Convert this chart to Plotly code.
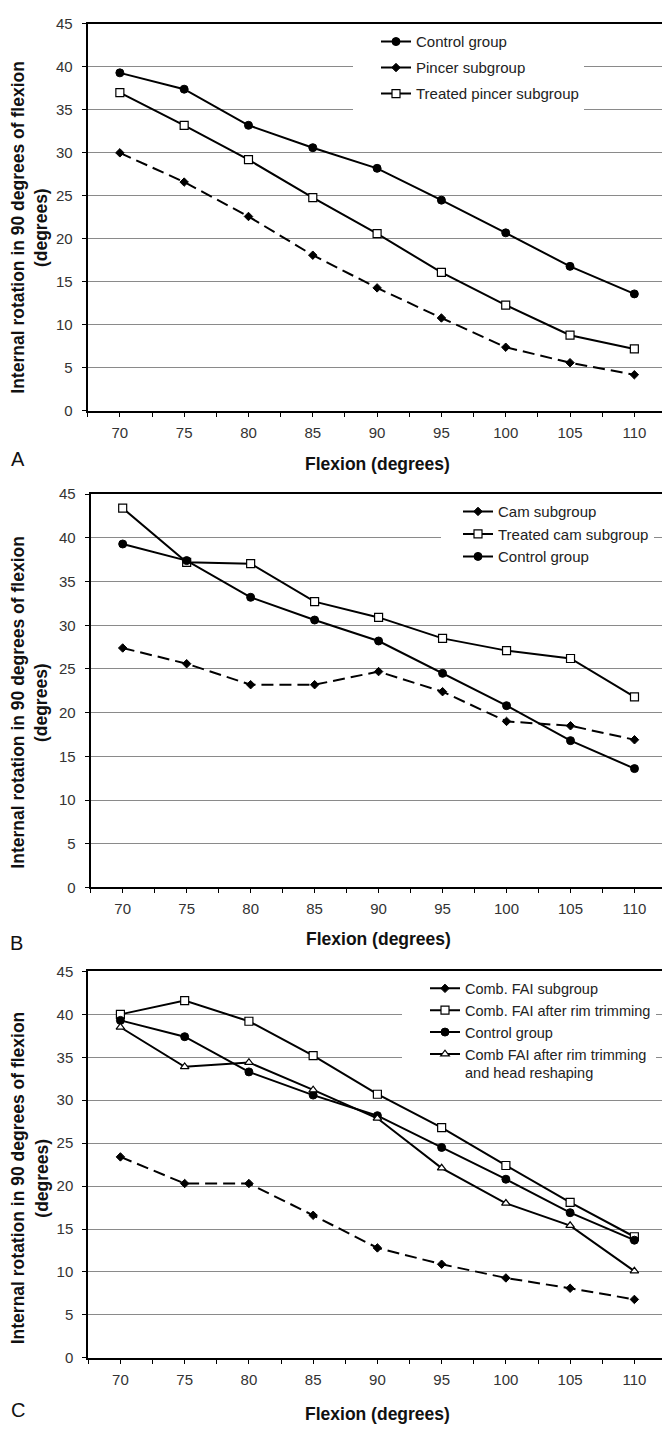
import plotly.graph_objects as go

W, H = 662, 1433

flexion = [70, 75, 80, 85, 90, 95, 100, 105, 110]
flexion_ticks = [70, 75, 80, 85, 90, 95, 100, 105, 110]
minor_ticks = [67.5, 72.5, 77.5, 82.5, 87.5, 92.5, 97.5, 102.5, 107.5]
y_ticks = [0, 5, 10, 15, 20, 25, 30, 35, 40, 45]

# Panel A
a_control = [39.3, 37.4, 33.2, 30.6, 28.2, 24.5, 20.7, 16.8, 13.6]
a_pincer = [30.0, 26.6, 22.6, 18.1, 14.3, 10.8, 7.4, 5.6, 4.2]
a_treated_pincer = [37.0, 33.2, 29.2, 24.8, 20.6, 16.1, 12.3, 8.8, 7.2]

# Panel B
b_cam = [27.4, 25.6, 23.2, 23.2, 24.7, 22.4, 19.0, 18.5, 16.9]
b_treated_cam = [43.4, 37.2, 37.05, 32.7, 30.9, 28.5, 27.1, 26.2, 21.8]
b_control = [39.3, 37.4, 33.2, 30.6, 28.2, 24.5, 20.8, 16.8, 13.6]

# Panel C
c_comb = [23.4, 20.3, 20.3, 16.6, 12.8, 10.9, 9.3, 8.1, 6.8]
c_comb_rim = [40.0, 41.6, 39.2, 35.2, 30.7, 26.8, 22.4, 18.1, 14.1]
c_control = [39.3, 37.4, 33.3, 30.6, 28.2, 24.5, 20.8, 16.9, 13.7]
c_comb_rim_head = [38.5, 33.9, 34.4, 31.2, 27.9, 22.1, 18.0, 15.4, 10.1]

y_title_1 = "Internal rotation in 90 degrees of flexion"
y_title_2 = "(degrees)"
x_title = "Flexion (degrees)"
panel_letters = ["A", "B", "C"]

FONT = "Liberation Sans, Arial, sans-serif"

def px_y(p):
    return 1 - p / H

# panel geometry (pixels)
panels = [
    dict(left=87.7, top=15, bottom=406.7),
    dict(left=90.7, top=491, bottom=889),
    dict(left=88.3, top=974, bottom=1365),
]

styles = {
    "circle": dict(symbol="circle", size=8, color="black", line=dict(color="black", width=1)),
    "diamond": dict(symbol="diamond", size=6.5, color="black", line=dict(color="black", width=1)),
    "square": dict(symbol="square", size=8, color="white", line=dict(color="black", width=1.2)),
    "triangle": dict(symbol="triangle-up", size=7.5, color="white", line=dict(color="black", width=1.2)),
}

series = [
    # (panel index, name, values, marker, dashed)
    (0, "Control group", a_control, "circle", False),
    (0, "Pincer subgroup", a_pincer, "diamond", True),
    (0, "Treated pincer subgroup", a_treated_pincer, "square", False),
    (1, "Cam subgroup", b_cam, "diamond", True),
    (1, "Treated cam subgroup", b_treated_cam, "square", False),
    (1, "Control group", b_control, "circle", False),
    (2, "Comb. FAI subgroup", c_comb, "diamond", True),
    (2, "Comb. FAI after rim trimming", c_comb_rim, "square", False),
    (2, "Control group", c_control, "circle", False),
    (2, "Comb FAI after rim trimming<br>and head reshaping", c_comb_rim_head, "triangle", False),
]

fig = go.Figure()
legend_names = ["legend", "legend2", "legend3"]
for k, (pi, name, vals, mk, dashed) in enumerate(series):
    sfx = "" if pi == 0 else str(pi + 1)
    fig.add_trace(go.Scatter(
        x=flexion, y=vals, name=name, mode="lines+markers",
        line=dict(color="black", width=2, dash="12px,6px" if dashed else "solid"),
        marker=styles[mk],
        xaxis="x" + sfx, yaxis="y" + sfx,
        legend=legend_names[pi], legendgroup="g%d" % k,
    ))

layout = dict(
    width=W, height=H, margin=dict(l=0, r=0, t=0, b=0),
    paper_bgcolor="white", plot_bgcolor="white",
    font=dict(family=FONT, size=15, color="#222"),
    showlegend=True,
)

annotations = []
letter_pos = [(18, 455), (16, 945), (18, 1418)]
xtitle_y = [460, 940.7, 1421.7]
ytitle_center = [221, 701.7, 1183]

for i, p in enumerate(panels):
    sfx = "" if i == 0 else str(i + 1)
    layout["xaxis" + sfx] = dict(
        domain=[p["left"] / W, 1.0], range=[67.5, 112.15],
        anchor="y" + sfx,
        tickmode="array", tickvals=flexion_ticks, ticktext=[str(v) for v in flexion_ticks],
        ticks="outside", ticklen=4, tickwidth=1, tickcolor="black",
        minor=dict(tickmode="array", tickvals=minor_ticks, ticks="outside", ticklen=4,
                   tickwidth=1, tickcolor="black", showgrid=False),
        showline=True, linewidth=2, linecolor="black", mirror=True,
        showgrid=False, zeroline=False,
        tickfont=dict(family=FONT, size=15, color="#333"),
        ticklabelstandoff=3, fixedrange=True,
    )
    layout["yaxis" + sfx] = dict(
        domain=[px_y(p["bottom"]), px_y(p["top"])], range=[0, 45],
        anchor="x" + sfx,
        tickmode="array", tickvals=y_ticks,
        ticks="outside", ticklen=4, tickwidth=1, tickcolor="black",
        showline=True, linewidth=2, linecolor="black", mirror=False,
        showgrid=True, gridcolor="#8a8a8a", gridwidth=1, zeroline=False,
        tickfont=dict(family=FONT, size=15, color="#333"),
        ticklabelstandoff=6, fixedrange=True,
    )
    annotations.append(dict(
        text=panel_letters[i], x=letter_pos[i][0] / W, y=px_y(letter_pos[i][1]),
        xref="paper", yref="paper", showarrow=False, xanchor="center", yanchor="middle",
        font=dict(family=FONT, size=20, color="#111"),
    ))
    annotations.append(dict(
        text="<b>%s</b>" % x_title, x=90, y=px_y(xtitle_y[i]),
        xref="x" + sfx, yref="paper", showarrow=False, xanchor="center", yanchor="middle",
        font=dict(family=FONT, size=17.5, color="#111"),
    ))
    annotations.append(dict(
        text="<b>%s</b>" % y_title_1, x=18.3 / W, y=px_y(ytitle_center[i]),
        xref="paper", yref="paper", showarrow=False, xanchor="center", yanchor="middle",
        textangle=-90, font=dict(family=FONT, size=17.5, color="#111"),
    ))
    annotations.append(dict(
        text="<b>%s</b>" % y_title_2, x=41.7 / W, y=px_y(ytitle_center[i]),
        xref="paper", yref="paper", showarrow=False, xanchor="center", yanchor="middle",
        textangle=-90, font=dict(family=FONT, size=17.5, color="#111"),
    ))

layout["annotations"] = annotations

leg_common = dict(bgcolor="white", borderwidth=0, xanchor="left", yanchor="top",
                  valign="top",
                  font=dict(family=FONT, size=15, color="#222"))
layout["legend"] = dict(leg_common, x=353 / W, y=px_y(16.5), tracegroupgap=3.5,
                        indentation=23)
layout["legend2"] = dict(leg_common, x=441 / W, y=px_y(492), tracegroupgap=0,
                         indentation=17)
layout["legend3"] = dict(leg_common, x=402 / W, y=px_y(975), tracegroupgap=0,
                         indentation=23,
                         font=dict(family=FONT, size=14.5, color="#222"))

fig.update_layout(**layout)
fig.write_html("out.html")
